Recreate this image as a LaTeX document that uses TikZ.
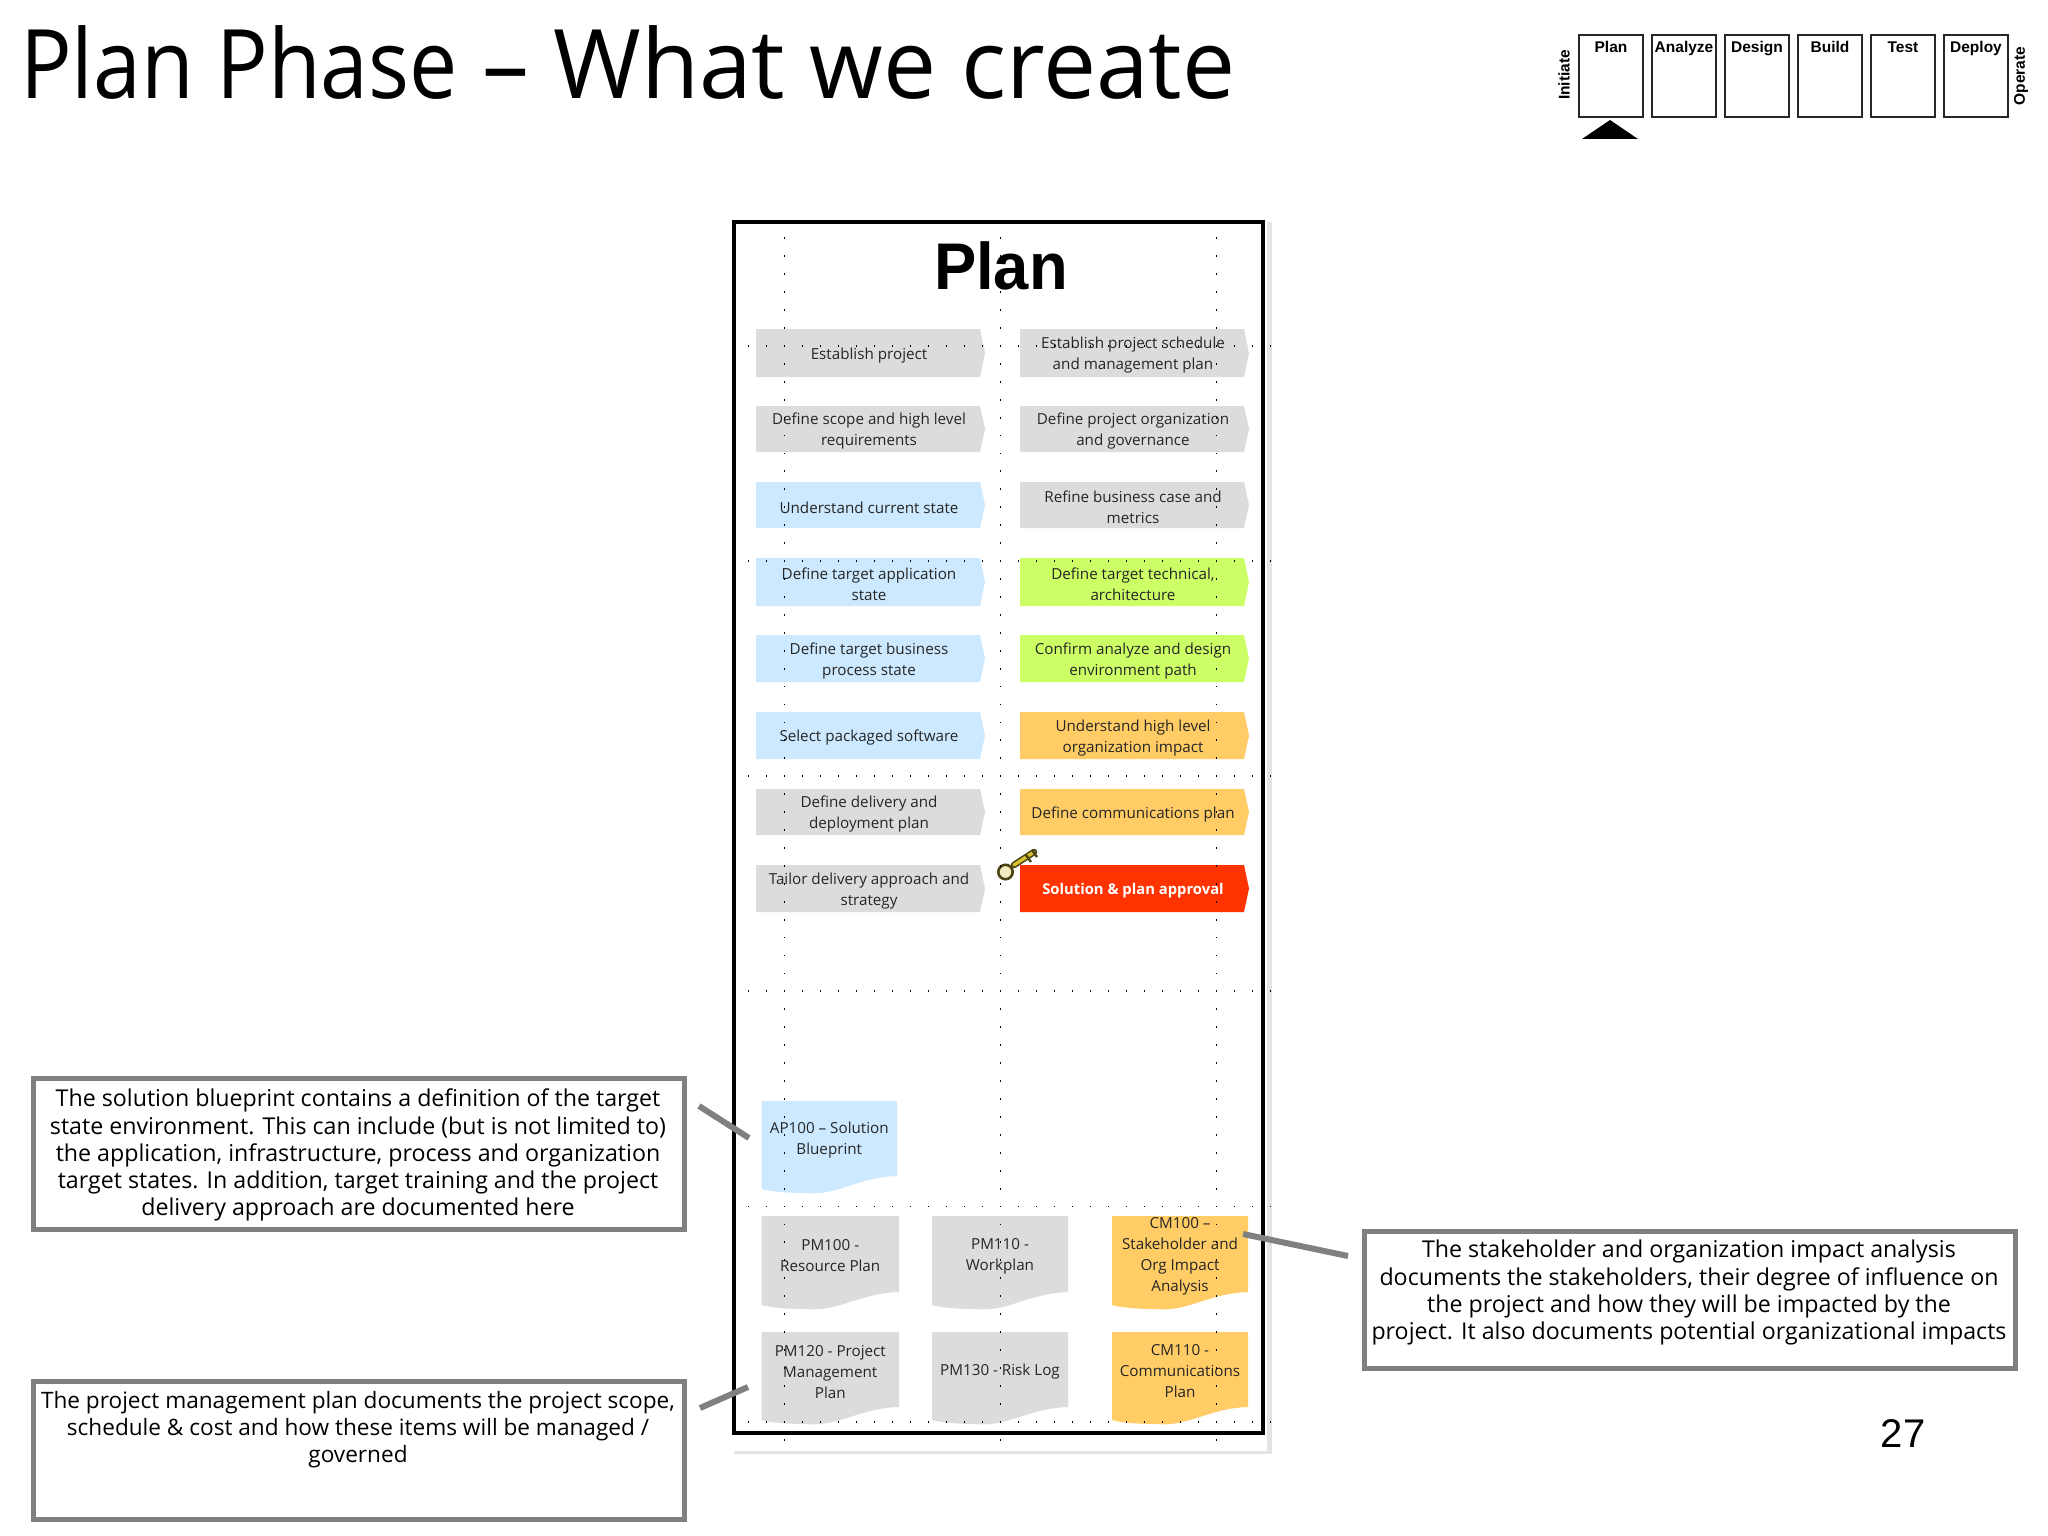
\documentclass[tikz,border=0pt]{standalone}
\usepackage{fontspec}
\usepackage{graphicx}
\setmainfont{Open Sans}
\newfontfamily\comicf{Open Sans}
\newfontfamily\labf{Open Sans}
\newfontfamily\arf{Liberation Sans}
\definecolor{stepgrey}{HTML}{DCDCDC}
\definecolor{stepblue}{HTML}{CCE9FF}
\definecolor{stepgreen}{HTML}{CCFF66}
\definecolor{steporange}{HTML}{FFCC66}
\definecolor{stepred}{HTML}{FF3300}
\definecolor{frameshadow}{HTML}{E3E3E6}
\definecolor{callgrey}{HTML}{808080}
\definecolor{labink}{HTML}{262626}
\definecolor{keygold}{HTML}{D8C030}
\tikzset{
  labtext/.style={inner sep=0pt,align=center,text=labink,font=\labf\fontsize{15.2}{21}\selectfont},
  calloutbox/.style={draw=callgrey,line width=5pt,fill=white,inner sep=0pt,outer sep=0pt,anchor=north west},
  callouttext/.style={inner sep=0pt,anchor=north,align=center,text=black,font=\comicf\fontsize{23.2}{27.2}\selectfont},
  conn/.style={draw=callgrey,line width=6pt},
  navbox/.style={draw=black!85,line width=2.5pt,fill=white,inner sep=0pt,outer sep=0pt,anchor=north west,minimum width=64pt,minimum height=82pt},
  navlabel/.style={inner sep=0pt,font=\arf\bfseries\fontsize{15.5}{18}\selectfont},
}
% name, x0, top, bottom, fill, text
\newcommand{\stepshape}[6]{%
  \fill[#5] (#2,#3) -- ({#2+224},#3) -- ({#2+229},{(#3+#4)/2}) -- ({#2+224},#4) -- (#2,#4) -- cycle;
  \node[labtext] (#1) at ({#2+113},{(#3+#4)/2+2.5}) {#6};
}
% name, x0, x1, top, right-bottom, fill, text
\newcommand{\docshape}[7]{%
  \fill[#6] (#2,#4) -- (#3,#4) -- (#3,#5)
    .. controls ({#2+0.72*(#3-#2)},{#5+1}) and ({#2+0.55*(#3-#2)},{#5+20}) .. ({#2+0.34*(#3-#2)},{#5+17})
    .. controls ({#2+0.2*(#3-#2)},{#5+17}) and ({#2+0.08*(#3-#2)},{#5+16}) .. (#2,{#5+13}) -- cycle;
  \node[labtext] (#1) at ({(#2+#3)/2},{(#4+#5)/2+2}) {#7};
}
\begin{document}
\begin{tikzpicture}[x=1pt,y=-1pt]
\useasboundingbox (0,0) rectangle (2048,1536);
\fill[white] (0,0) rectangle (2048,1536);

% title
\node[inner sep=0pt,anchor=base west,font=\comicf\fontsize{96}{110}\selectfont] (title) at (20,99) {\scalebox{0.895}[1]{Plan Phase}\scalebox{0.976}[1]{\ –\ }\scalebox{0.986}[1]{What we create}};

% navigation strip
\node[navbox] (navplan) at (1579,35) {};
\node[navbox] (navanalyze) at (1652,35) {};
\node[navbox] (navdesign) at (1725,35) {};
\node[navbox] (navbuild) at (1798,35) {};
\node[navbox] (navtest) at (1871,35) {};
\node[navbox] (navdeploy) at (1944,35) {};
\node[navlabel,anchor=base] (lplan) at (1611,53) {Plan};
\node[navlabel,anchor=base] (lanalyze) at (1684,53) {Analyze};
\node[navlabel,anchor=base] (ldesign) at (1757,53) {Design};
\node[navlabel,anchor=base] (lbuild) at (1830,53) {Build};
\node[navlabel,anchor=base] (ltest) at (1903,53) {Test};
\node[navlabel,anchor=base] (ldeploy) at (1976,53) {Deploy};
\node[navlabel,rotate=90] (linit) at (1564,75) {Initiate};
\node[navlabel,rotate=90] (loper) at (2021,76) {Operate};
\fill[black] (1610,120) -- (1638,139) -- (1582,139) -- cycle;

% frame
\fill[frameshadow] (1267,222) rectangle (1272,1454);
\fill[frameshadow] (734,1451) rectangle (1272,1454);
\draw[black,line width=3.5pt] (734,222) rectangle (1263,1433);
\node[inner sep=0pt,anchor=base,xscale=0.96,font=\arf\bfseries\fontsize{66}{70}\selectfont] (plan) at (1001,289) {Plan};

% left steps
\stepshape{s1}{756}{329}{377}{stepgrey}{Establish project}
\stepshape{s2}{756}{406}{452}{stepgrey}{Define scope and high level\\requirements}
\stepshape{s3}{756}{482}{528}{stepblue}{Understand current state}
\stepshape{s4}{756}{558}{606}{stepblue}{Define target application\\state}
\stepshape{s5}{756}{635}{682}{stepblue}{Define target business\\process state}
\stepshape{s6}{756}{712}{759}{stepblue}{Select packaged software}
\stepshape{s7}{756}{789}{835}{stepgrey}{Define delivery and\\deployment plan}
\stepshape{s8}{756}{865}{912}{stepgrey}{Tailor delivery approach and\\strategy}
% right steps
\stepshape{t1}{1020}{329}{377}{stepgrey}{Establish project schedule\\and management plan}
\stepshape{t2}{1020}{406}{452}{stepgrey}{Define project organization\\and governance}
\stepshape{t3}{1020}{482}{528}{stepgrey}{Refine business case and\\metrics}
\stepshape{t4}{1020}{558}{606}{stepgreen}{Define target technical,\\architecture}
\stepshape{t5}{1020}{635}{682}{stepgreen}{Confirm analyze and design\\environment path}
\stepshape{t6}{1020}{712}{759}{steporange}{Understand high level\\organization impact}
\stepshape{t7}{1020}{789}{835}{steporange}{Define communications plan}
\stepshape{t8}{1020}{865}{912}{stepred}{\textcolor{white}{\fontsize{14.8}{21}\selectfont\textbf{Solution \& plan approval}}}

% documents
\docshape{ap100}{761.5}{897}{1101}{1176}{stepblue}{AP100 – Solution\\Blueprint}
\docshape{pm100}{761.5}{899}{1216}{1292}{stepgrey}{PM100 -\\Resource Plan}
\docshape{pm110}{932}{1068}{1216}{1292}{stepgrey}{PM110 -\\Workplan}
\docshape{cm100}{1112}{1248}{1216}{1292}{steporange}{CM100 –\\Stakeholder and\\Org Impact\\Analysis}
\docshape{pm120}{761.5}{899}{1332}{1407}{stepgrey}{PM120 - Project\\Management\\Plan}
\docshape{pm130}{932}{1068}{1332}{1407}{stepgrey}{PM130 - Risk Log}
\docshape{cm110}{1112}{1248}{1332}{1407}{steporange}{CM110 -\\Communications\\Plan}

% key
\draw[black!65!keygold,line width=6.5pt,line cap=round] (1014,865) -- (1034,852);
\draw[keygold,line width=3.4pt,line cap=round] (1014,865) -- (1034,852);
\draw[black!65!keygold,line width=2.4pt] (1026,855) -- (1031,862) (1032,850) -- (1037,857);
\draw[black!65!keygold,fill=keygold!30,line width=2.6pt] (1005.5,872) circle (7.2pt);

% dotted grid
\foreach \cx in {784.4,1000.4,1216.4}
  \foreach \k in {0,...,67}
    \fill[black] ({\cx-0.9},{238.3+17.93*\k-0.9}) rectangle ({\cx+0.9},{238.3+17.93*\k+0.9});
\foreach \ky in {6,18,30,42,54,66}
  \foreach \k in {0,...,29}
    \fill[black] ({748.4+18*\k-0.9},{238.3+17.93*\ky-0.9}) rectangle ({748.4+18*\k+0.9},{238.3+17.93*\ky+0.9});

% callouts
\node[calloutbox,minimum width=651pt,minimum height=151pt] (call1) at (33,1078) {};
\node[callouttext] (call1t) at (358,1089) {The solution blueprint contains a definition of the target\\state environment.  This can include (but is not limited to)\\the application, infrastructure, process and organization\\target states.  In addition, target training and the project\\delivery approach are documented here};
\node[calloutbox,minimum width=651pt,minimum height=138pt] (call2) at (33,1381) {};
\node[callouttext,font=\comicf\fontsize{22.6}{27.2}\selectfont] (call2t) at (358,1391) {The project management plan documents the project scope,\\schedule \& cost and how these items will be managed /\\governed};
\node[calloutbox,minimum width=651pt,minimum height=137pt] (call3) at (1364,1231) {};
\node[callouttext] (call3t) at (1689,1240) {The stakeholder and organization impact analysis\\documents the stakeholders, their degree of influence on\\the project and how they will be impacted by the\\project.  It also documents potential organizational impacts};

% connectors
\coordinate (c1a) at (699,1106);
\coordinate (c1b) at (749,1138);
\coordinate (c2a) at (700,1408);
\coordinate (c2b) at (748,1387);
\coordinate (c3a) at (1243,1234);
\coordinate (c3b) at (1348,1256);
\draw[conn] (c1a) -- (c1b);
\draw[conn] (c2a) -- (c2b);
\draw[conn] (c3a) -- (c3b);

% page number
\node[inner sep=0pt,font=\arf\fontsize{40}{44}\selectfont] (pageno) at (1903,1434) {27};
\end{tikzpicture}
\end{document}
